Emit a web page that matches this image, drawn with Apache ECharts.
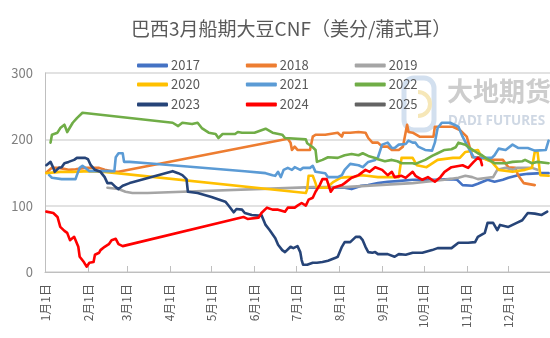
<!DOCTYPE html>
<html>
<head>
<meta charset="utf-8">
<script src="https://cdn.jsdelivr.net/npm/echarts@6/dist/echarts.min.js"></script>
<style>
  html, body { margin: 0; padding: 0; background: #fff; }
  #chart { width: 550px; height: 338px; }
</style>
</head>
<body>
<div id="chart"></div>
<script>
// Calendar used for the x axis (non-leap year, one category per day)
const monthLengths = [31, 28, 31, 30, 31, 30, 31, 31, 30, 31, 30, 31];
const monthNames = ['1月', '2月', '3月', '4月', '5月', '6月', '7月', '8月', '9月', '10月', '11月', '12月'];

// Y axis range
const yTicks = [0, 100, 200, 300];

// Legend names
const years = ['2017', '2018', '2019', '2020', '2021', '2022', '2023', '2024', '2025'];

// Each point: [day of year (0 = 1月1日), price in 美分/蒲式耳]
const s2017 = [[188,127],[202,127],[216,127],[221,125],[228,130],[233,131],[240,134],[247,136],[254,137],[265,139],[281,139],[292,140],[297,139],[301,131],[308,130],[312,133],[319,139],[324,136],[330,139],[334,142],[341,146],[348,148],[358,149],[363,149]];
const s2018 = [[1,150],[5,157],[10,157],[17,154],[22,155],[29,157],[34,157],[39,157],[43,154],[50,151],[53,151],[175,201],[177,195],[178,184],[180,189],[182,184],[191,184],[193,204],[195,207],[202,207],[203,210],[211,210],[214,204],[215,210],[220,210],[226,211],[231,210],[233,202],[236,195],[240,195],[243,189],[247,189],[250,184],[255,184],[258,189],[261,222],[262,211],[265,210],[270,204],[280,204],[281,219],[294,219],[299,214],[304,204],[306,189],[308,173],[314,173],[319,169],[330,169],[334,158],[339,157],[341,146],[345,134],[353,131]];
const s2019 = [[45,127],[53,125],[58,121],[63,119],[74,119],[193,128],[216,128],[240,131],[265,134],[288,139],[298,142],[303,145],[308,143],[312,140],[319,142],[323,143],[326,154],[332,157],[337,154],[340,157],[351,157],[355,154]];
const s2020 = [[1,149],[11,151],[20,151],[32,152],[43,151],[188,119],[189,125],[190,145],[193,145],[195,134],[196,127],[203,127],[208,136],[213,142],[218,143],[222,143],[227,146],[232,145],[240,143],[245,143],[255,143],[257,172],[265,172],[268,161],[275,158],[283,169],[294,172],[299,172],[303,181],[312,184],[315,172],[322,166],[327,154],[337,151],[346,154],[351,157],[353,181],[355,181],[357,146],[363,145]];
const s2021 = [[3,146],[5,142],[12,140],[22,140],[23,146],[25,157],[27,160],[29,157],[32,152],[46,152],[50,152],[51,173],[53,179],[56,179],[57,166],[61,166],[74,164],[144,152],[159,149],[164,146],[166,145],[168,151],[170,143],[172,154],[175,157],[178,154],[180,158],[184,154],[186,157],[191,157],[193,160],[195,151],[202,149],[204,143],[211,143],[214,146],[216,154],[220,163],[226,161],[229,158],[233,166],[238,169],[240,173],[243,192],[247,195],[250,187],[252,187],[255,192],[260,193],[262,198],[265,195],[267,195],[269,189],[274,184],[279,183],[281,195],[283,217],[286,225],[292,225],[298,219],[301,204],[304,192],[306,184],[309,173],[312,172],[322,172],[324,176],[327,186],[332,184],[337,192],[341,187],[348,187],[353,183],[361,184],[363,198]];
const s2022 = [[4,195],[5,207],[9,210],[11,217],[14,222],[16,211],[20,225],[23,232],[27,240],[92,225],[96,220],[99,225],[106,223],[110,225],[113,217],[118,210],[123,208],[125,202],[128,208],[137,208],[139,211],[142,210],[151,210],[159,216],[164,210],[171,207],[173,202],[188,200],[189,194],[193,188],[195,184],[196,166],[200,169],[204,173],[211,172],[216,176],[221,178],[226,176],[229,179],[233,175],[238,172],[240,170],[245,167],[250,169],[254,167],[257,164],[265,164],[267,163],[274,169],[279,175],[283,179],[288,184],[293,185],[296,188],[298,195],[303,192],[306,187],[312,179],[315,176],[319,170],[324,164],[332,164],[337,166],[344,167],[346,169],[351,164],[355,166],[363,164]];
const s2023 = [[1,161],[4,166],[6,157],[7,151],[10,157],[12,158],[14,164],[17,166],[21,169],[23,172],[29,172],[31,170],[33,161],[36,154],[40,151],[43,143],[45,134],[46,136],[48,134],[51,128],[53,125],[56,130],[61,134],[92,152],[96,149],[99,146],[102,140],[103,121],[110,119],[120,113],[130,106],[132,101],[136,90],[138,95],[142,94],[144,89],[149,86],[154,85],[156,86],[159,71],[162,63],[166,51],[168,41],[171,33],[173,30],[177,38],[179,36],[182,39],[184,30],[185,18],[186,11],[189,11],[193,14],[196,14],[200,15],[204,17],[209,21],[211,23],[214,38],[216,45],[220,45],[224,53],[227,53],[229,48],[231,38],[233,30],[236,29],[238,30],[240,27],[247,27],[252,23],[255,27],[260,26],[265,29],[272,29],[279,33],[283,36],[293,36],[298,44],[305,44],[310,45],[312,53],[317,59],[319,74],[323,74],[326,63],[328,71],[334,68],[340,74],[344,78],[348,89],[353,88],[358,86],[362,91]];
const s2024 = [[1,91],[6,89],[9,83],[11,68],[14,62],[16,59],[18,48],[21,53],[22,56],[24,38],[25,23],[28,15],[30,8],[32,14],[35,15],[36,26],[39,29],[40,33],[43,38],[46,42],[48,48],[51,50],[53,42],[56,39],[143,83],[146,80],[154,82],[156,89],[160,97],[164,94],[168,94],[173,91],[175,97],[180,97],[182,100],[185,104],[188,100],[190,109],[193,112],[195,121],[198,131],[200,140],[203,140],[206,121],[208,127],[209,130],[214,131],[216,134],[221,142],[226,146],[231,154],[234,151],[238,158],[239,161],[243,154],[247,146],[250,151],[252,143],[257,145],[260,142],[265,151],[267,145],[272,139],[276,143],[281,136],[285,143],[288,151],[293,158],[301,161],[305,157],[309,166],[312,172],[314,169],[315,161]];
const s2025 = [];

const seriesData = [s2017, s2018, s2019, s2020, s2021, s2022, s2023, s2024, s2025];
const colors = ['#4472C4', '#ED7D31', '#A5A5A5', '#FFC000', '#5B9BD5', '#70AD47', '#264478', '#FF0000', '#636363'];

// Build day categories like "3月1日"
const days = [];
const isMonthStart = [];
monthLengths.forEach((len, m) => {
  for (let d = 1; d <= len; d++) {
    days.push(monthNames[m] + d + '日');
    isMonthStart.push(d === 1);
  }
});

const FONT = '"Noto Sans CJK SC", "Noto Sans", sans-serif';
const textColor = '#595959';

const chart = echarts.init(document.getElementById('chart'), null, { renderer: 'canvas' });

const legendRow = (names, top) => ({
  data: names,
  top: top,
  left: 132,
  itemGap: 46,
  itemWidth: 31,
  itemHeight: 4,
  icon: 'roundRect',
  selectedMode: false,
  textStyle: { color: textColor, fontSize: 13, fontFamily: FONT, padding: [0, 0, 0, -2] }
});

chart.setOption({
  animation: false,
  backgroundColor: '#fff',
  title: {
    text: '巴西3月船期大豆CNF（美分/蒲式耳）',
    left: 126,
    top: 14,
    textStyle: { color: textColor, fontSize: 19, fontWeight: 'normal', fontFamily: FONT }
  },
  legend: [
    legendRow(years.slice(0, 3), 54),
    legendRow(years.slice(3, 6), 73),
    legendRow(years.slice(6, 9), 93)
  ],
  // Company watermark behind the plot
  graphic: [
    {
      type: 'rect', z: 0, silent: true,
      shape: { x: 404, y: 78, width: 30, height: 52, r: 10 },
      style: { fill: 'none', stroke: '#d3e0ef', lineWidth: 5 }
    },
    {
      type: 'arc', z: 0, silent: true,
      shape: { cx: 418, cy: 104, r: 12, startAngle: -Math.PI / 2, endAngle: Math.PI / 2 },
      style: { fill: 'none', stroke: '#f6e7b8', lineWidth: 4 }
    },
    {
      type: 'text', z: 0, silent: true, left: 447, top: 78,
      style: { text: '大地期货', fill: '#cdcdcd', font: 'bold 26px "Noto Sans CJK SC", sans-serif' }
    },
    {
      type: 'text', z: 0, silent: true, left: 448, top: 114,
      style: { text: 'DADI FUTURES', fill: '#cfd8e4', font: 'bold 13.5px "Noto Sans", sans-serif' }
    }
  ],
  grid: {
    left: 45, right: 0, top: 73, bottom: 66,
    containLabel: false, outerBoundsMode: 'none'
  },
  xAxis: {
    type: 'category',
    data: days,
    boundaryGap: false,
    axisLine: { show: true, lineStyle: { color: '#bfbfbf', width: 1 } },
    axisTick: {
      show: true, inside: true, length: 6,
      interval: (i) => isMonthStart[i],
      lineStyle: { color: '#bfbfbf' }
    },
    axisLabel: {
      interval: (i) => isMonthStart[i],
      rotate: 90,
      margin: 12,
      color: textColor,
      fontSize: 12,
      fontFamily: FONT
    },
    splitLine: { show: false }
  },
  yAxis: {
    type: 'value',
    min: yTicks[0],
    max: yTicks[yTicks.length - 1],
    interval: 100,
    axisLine: { show: true, lineStyle: { color: '#bfbfbf' } },
    axisTick: { show: false },
    axisLabel: { color: '#7f7f7f', fontSize: 13, margin: 12, fontFamily: FONT },
    splitLine: { show: true, lineStyle: { color: '#d9d9d9', width: 1.5 } }
  },
  series: years.map((name, i) => ({
    name: name,
    type: 'line',
    data: seriesData[i],
    showSymbol: false,
    symbol: 'none',
    color: colors[i],
    lineStyle: { width: 2.6, color: colors[i], join: 'round', cap: 'round' },
    z: 2 + i
  }))
});
</script>
</body>
</html>
